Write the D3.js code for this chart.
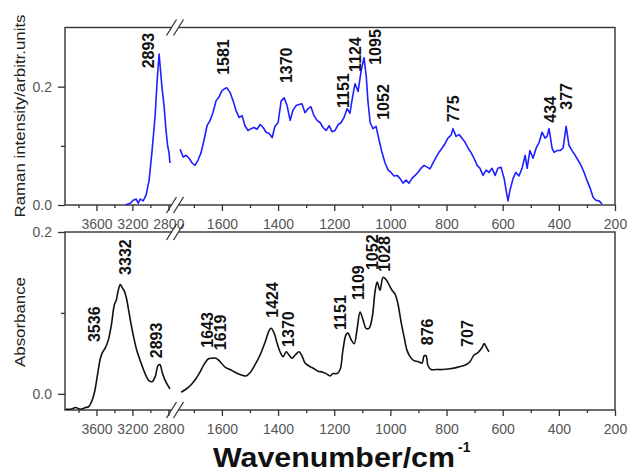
<!DOCTYPE html>
<html><head><meta charset="utf-8">
<script src="https://cdn.jsdelivr.net/npm/d3@7/dist/d3.min.js"></script>
<style>body{margin:0;background:#fff}</style>
</head><body><svg id="c" width="627" height="472"></svg>
<script>
// ---------- data ----------
const ramanWnL=[3279,3224,3191,3158,3135,3113,3080,3047,3014,2981,2947,2925,2903,2887,2870,2848,2826,2809,2793,2782];
const ramanIntL=[0.000,0.003,0.008,0.010,0.003,0.010,0.007,0.017,0.042,0.092,0.151,0.210,0.255,0.227,0.197,0.168,0.126,0.101,0.089,0.071];
const ramanWnR=[1749,1738,1728,1717,1706,1696,1685,1674,1664,1653,1642,1632,1621,1610,1600,1589,1582,1571,1560,1550,1539,1528,1518,1507,1496,1486,1475,1464,1453,1443,1432,1421,1411,1400,1389,1378,1368,1357,1347,1336,1325,1315,1304,1293,1283,1272,1261,1250,1240,1229,1218,1208,1197,1186,1176,1165,1154,1144,1137,1126,1115,1104,1094,1086,1080,1072,1062,1051,1040,1030,1019,1008,998,987,976,966,955,944,934,923,912,902,891,880,869,859,848,837,827,816,805,795,784,777,766,756,745,734,723,713,702,691,681,670,659,649,638,627,617,606,595,585,581,574,563,553,542,531,520,513,503,492,481,470,460,449,442,435,424,417,407,396,385,374,364,353,342,332,321,310,300,289,278,268,257,246];
const ramanIntR=[0.094,0.081,0.084,0.079,0.071,0.067,0.076,0.089,0.109,0.134,0.143,0.156,0.176,0.183,0.193,0.197,0.198,0.190,0.176,0.160,0.148,0.151,0.134,0.126,0.129,0.131,0.128,0.136,0.131,0.123,0.121,0.114,0.133,0.139,0.176,0.181,0.168,0.143,0.160,0.168,0.170,0.171,0.156,0.163,0.166,0.151,0.143,0.139,0.131,0.126,0.134,0.124,0.126,0.136,0.139,0.148,0.163,0.155,0.176,0.205,0.192,0.227,0.249,0.218,0.176,0.139,0.129,0.133,0.109,0.089,0.071,0.059,0.055,0.049,0.050,0.045,0.037,0.042,0.037,0.045,0.050,0.055,0.062,0.067,0.064,0.061,0.071,0.081,0.089,0.096,0.104,0.113,0.118,0.129,0.116,0.119,0.113,0.106,0.096,0.089,0.079,0.067,0.062,0.050,0.059,0.055,0.062,0.050,0.062,0.064,0.045,0.017,0.007,0.025,0.045,0.055,0.049,0.062,0.084,0.062,0.092,0.079,0.096,0.106,0.123,0.113,0.116,0.129,0.096,0.089,0.092,0.092,0.096,0.133,0.101,0.092,0.084,0.076,0.067,0.055,0.042,0.029,0.013,0.008,0.007,0.002];
const absWnL=[3943,3888,3832,3777,3722,3688,3655,3622,3589,3556,3534,3500,3467,3434,3401,3379,3357,3335,3312,3290,3268,3246,3213,3180,3147,3113,3080,3047,3014,2981,2947,2914,2892,2870,2837,2804,2782];
const absL=[-0.019,-0.019,-0.017,-0.019,-0.017,-0.016,-0.010,0.002,0.023,0.044,0.051,0.057,0.067,0.085,0.110,0.116,0.128,0.135,0.131,0.127,0.119,0.106,0.085,0.067,0.052,0.041,0.031,0.022,0.016,0.015,0.021,0.035,0.036,0.027,0.017,0.010,0.006];
const absWnR=[1745,1731,1713,1696,1678,1664,1649,1635,1621,1607,1589,1571,1550,1528,1514,1500,1482,1464,1446,1432,1425,1414,1404,1393,1382,1371,1361,1350,1339,1325,1315,1304,1293,1283,1272,1258,1243,1229,1215,1204,1190,1179,1169,1158,1151,1140,1129,1119,1108,1097,1087,1076,1065,1054,1047,1037,1026,1015,1005,994,983,973,962,951,941,930,916,902,887,880,873,866,855,837,816,788,759,731,716,702,688,674,666,659,649];
const absR=[0.002,0.005,0.010,0.017,0.027,0.036,0.043,0.044,0.044,0.040,0.033,0.030,0.026,0.023,0.022,0.026,0.036,0.048,0.064,0.078,0.081,0.075,0.063,0.052,0.046,0.052,0.048,0.044,0.048,0.052,0.047,0.038,0.035,0.033,0.031,0.028,0.027,0.025,0.022,0.025,0.025,0.030,0.054,0.073,0.075,0.067,0.062,0.079,0.101,0.091,0.081,0.081,0.094,0.128,0.138,0.128,0.144,0.141,0.135,0.128,0.123,0.111,0.089,0.070,0.054,0.046,0.041,0.040,0.038,0.047,0.047,0.035,0.030,0.030,0.030,0.031,0.033,0.036,0.040,0.048,0.051,0.057,0.062,0.058,0.052];

// peak labels: text, wavenumber where drawn, level of the label's lower end
const ramanLabels=["2893","1581","1370","1151","1124","1095","1052","775","434","377"];
const ramanLabelWn=[3021,1594,1370,1167,1126,1055,1025,775,432,373];
const ramanLabelY=[0.231,0.220,0.206,0.164,0.225,0.237,0.144,0.140,0.139,0.161];
const absLabels=["3536","3332","2893","1643","1619","1424","1370","1151","1109","1052","1028","876","707"];
const absLabelWn=[3627,3283,2932,1651,1605,1420,1363,1178,1114,1064,1023,868,725];
const absLabelY=[0.064,0.147,0.044,0.057,0.054,0.094,0.058,0.079,0.116,0.153,0.151,0.060,0.058];

const xMajorL=[3600,3200,2800], xMinorL=[3800,3400,3000];
const xMajorR=[1600,1400,1200,1000,800,600,400,200], xMinorR=[1700,1500,1300,1100,900,700,500,300];
const yMajor=[0.0,0.2], yMinor=[0.1];

// ---------- scales ----------
const FONT='"Liberation Sans", Arial, Helvetica, sans-serif';
const svg=d3.select("#c");
const xL=d3.scaleLinear().domain([3950,2715]).range([65,176]);
const xR=d3.scaleLinear().domain([1760,200]).range([177,615]);
const yTop=d3.scaleLinear().domain([0,0.3]).range([205,27.5]);
const yBot=d3.scaleLinear().domain([-0.02,0.2]).range([410,232]);

const panels=[{y:yTop,top:27.5,bot:205},{y:yBot,top:232,bot:410}];

// frames
panels.forEach(p=>{
  svg.append("rect").attr("x",65).attr("y",p.top).attr("width",550).attr("height",p.bot-p.top)
    .attr("fill","none").attr("stroke","#333").attr("stroke-width",1.4);
});

function xAxes(yPos){
  const g=svg.append("g").attr("transform",`translate(0,${yPos})`);
  [[xL,xMajorL],[xR,xMajorR]].forEach(([s,v])=>{
    g.append("g").call(d3.axisBottom(s).tickValues(v).tickSize(6).tickSizeOuter(0).tickPadding(8).tickFormat(d3.format("d")));
  });
  [[xL,xMinorL],[xR,xMinorR]].forEach(([s,v])=>{
    g.append("g").call(d3.axisBottom(s).tickValues(v).tickSize(3).tickSizeOuter(0).tickFormat(""));
  });
  g.selectAll(".domain").remove();
  g.selectAll(".tick line").attr("stroke","#333").attr("stroke-width",1.3);
  g.selectAll(".tick text").attr("font-family",FONT).attr("font-size",14).attr("fill","#555");
}
xAxes(205); xAxes(410);

panels.forEach(p=>{
  const g=svg.append("g").attr("transform","translate(65,0)");
  g.append("g").call(d3.axisLeft(p.y).tickValues(yMajor).tickSize(7).tickPadding(6).tickSizeOuter(0).tickFormat(d3.format(".1f")));
  g.append("g").call(d3.axisLeft(p.y).tickValues(yMinor).tickSize(4).tickSizeOuter(0).tickFormat(""));
  g.selectAll(".domain").remove();
  g.selectAll(".tick line").attr("stroke","#333").attr("stroke-width",1.3);
  g.selectAll(".tick text").attr("font-family",FONT).attr("font-size",14).attr("fill","#555");
});

// axis breaks
[27.5,205,232,410].forEach(yy=>{
  svg.append("rect").attr("x",172).attr("y",yy-2).attr("width",7).attr("height",4).attr("fill","#fff");
  [171.5,178.5].forEach(cx=>{
    svg.append("line").attr("x1",cx-5).attr("y1",yy+8).attr("x2",cx+5).attr("y2",yy-8)
      .attr("stroke","#333").attr("stroke-width",1.3);
  });
});

// curves
function drawCurve(wn,val,xs,ys,color,curve){
  const pts=wn.map((w,i)=>[w,val[i]]);
  svg.append("path").datum(pts)
    .attr("d",d3.line().x(d=>xs(d[0])).y(d=>ys(d[1])).curve(curve))
    .attr("fill","none").attr("stroke",color).attr("stroke-width",1.6).attr("stroke-linejoin","round");
}
drawCurve(ramanWnL,ramanIntL,xL,yTop,"#1f1fff",d3.curveLinear);
drawCurve(ramanWnR,ramanIntR,xR,yTop,"#1f1fff",d3.curveLinear);
drawCurve(absWnL,absL,xL,yBot,"#111",d3.curveCatmullRom);
drawCurve(absWnR,absR,xR,yBot,"#111",d3.curveCatmullRom);

// peak labels
function drawLabels(txt,wn,lv,ys){
  txt.forEach((t,i)=>{
    const xs = wn[i]>2000 ? xL : xR;
    svg.append("text").attr("transform",`translate(${xs(wn[i])},${ys(lv[i])}) rotate(-90)`)
      .attr("dy","0.36em").attr("font-family",FONT).attr("font-weight","bold").attr("font-size",16)
      .attr("fill","#111").text(t);
  });
}
drawLabels(ramanLabels,ramanLabelWn,ramanLabelY,yTop);
drawLabels(absLabels,absLabelWn,absLabelY,yBot);

// axis titles
svg.append("text").attr("transform","translate(25,116) rotate(-90)").attr("text-anchor","middle")
  .attr("font-family",FONT).attr("font-size",14).attr("fill","#222")
  .attr("textLength",203).attr("lengthAdjust","spacingAndGlyphs").text("Raman intensity/arbitr.units");
svg.append("text").attr("transform","translate(25,322) rotate(-90)").attr("text-anchor","middle")
  .attr("font-family",FONT).attr("font-size",14).attr("fill","#222")
  .attr("textLength",90).attr("lengthAdjust","spacingAndGlyphs").text("Absorbance");
svg.append("text").attr("x",213).attr("y",467)
  .attr("font-family",FONT).attr("font-weight","bold").attr("font-size",27).attr("fill","#111")
  .attr("textLength",242).attr("lengthAdjust","spacingAndGlyphs").text("Wavenumber/cm");
svg.append("text").attr("x",458).attr("y",452)
  .attr("font-family",FONT).attr("font-weight","bold").attr("font-size",14).attr("fill","#111").text("-1");
</script></body></html>
